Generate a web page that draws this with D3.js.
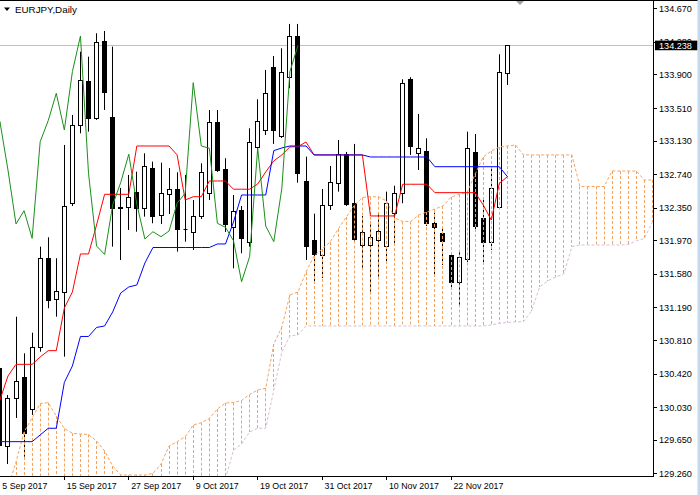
<!DOCTYPE html>
<html><head><meta charset="utf-8">
<script src="https://cdn.jsdelivr.net/npm/d3@7"></script>
<style>html,body{margin:0;padding:0;background:#fff;overflow:hidden}</style>
</head><body><svg id="c" width="700" height="495"></svg>
<script>
// ---------- data ----------
const symbolTitle = "EURJPY,Daily";
const dateLabels = ["5 Sep 2017","15 Sep 2017","27 Sep 2017","9 Oct 2017","19 Oct 2017","31 Oct 2017","10 Nov 2017","22 Nov 2017"];
const dateLabelBar = [0,8,16,24,32,40,48,56];
const priceTicks = ["129.260","129.650","130.030","130.420","130.810","131.190","131.580","131.970","132.350","132.740","133.130","133.510","133.900","134.280","134.670"];
const lastPrice = 134.238;

const open = [130.485,129.572,130.140,130.386,130.008,130.733,131.769,131.288,131.373,132.402,
133.313,133.825,133.391,134.290,133.400,132.353,132.362,132.530,132.347,132.816,
132.260,132.510,132.565,132.108,132.062,132.257,132.518,133.351,132.801,132.126,
132.324,131.955,133.060,133.254,133.984,133.185,133.875,134.348,132.661,131.975,
131.800,132.382,132.634,132.972,132.402,131.916,131.916,131.975,131.899,132.285,
132.518,133.844,132.983,133.010,132.169,132.060,131.800,131.489,131.750,132.995,
132.227,131.955,132.362,133.921];
const high = [130.637,130.171,131.082,130.656,130.896,131.897,132.006,131.762,133.080,133.429,
134.165,134.107,134.380,134.406,134.224,132.580,132.731,132.769,132.983,132.886,
132.874,132.812,132.762,132.731,132.440,132.867,133.487,133.487,132.925,132.498,
132.370,133.274,133.612,133.953,134.115,134.205,134.488,134.488,132.944,132.281,
132.568,132.836,133.138,132.999,133.092,132.254,132.188,132.285,132.537,132.606,
133.844,133.868,133.441,133.158,132.292,132.114,131.835,131.858,133.235,133.208,
132.440,132.809,134.135,134.243];
const low = [129.380,129.368,129.904,129.453,129.939,130.675,131.180,131.082,130.617,132.370,
133.216,133.235,133.371,133.487,131.897,131.742,132.091,132.071,132.246,132.169,
132.161,132.277,131.839,131.955,131.858,132.219,132.440,132.766,132.068,131.645,
131.820,131.897,132.983,133.196,133.092,133.161,133.740,132.641,131.742,131.471,
131.532,132.324,132.537,132.370,131.963,131.649,131.373,131.548,131.719,131.940,
132.402,132.964,132.789,132.137,131.567,131.684,131.393,131.198,131.719,132.068,
131.707,131.858,132.347,133.778];
const close = [129.589,130.140,130.334,129.726,130.733,131.769,131.277,131.385,132.370,133.313,
133.836,133.391,134.275,133.700,132.343,132.341,132.478,132.347,132.836,132.254,
132.518,132.565,132.099,132.097,132.257,132.762,133.351,132.789,132.161,132.315,
131.994,133.118,133.363,133.681,133.254,133.933,134.348,132.751,131.905,131.806,
132.382,132.644,132.972,132.388,131.986,132.071,132.013,132.079,132.402,132.518,
133.805,133.068,133.042,132.169,132.122,131.966,131.489,131.780,133.042,132.137,
131.955,132.576,133.933,134.238];

const tenkan = [130.113,130.392,130.528,130.528,130.528,130.613,130.687,130.687,131.183,131.370,
131.812,131.812,132.149,132.506,132.506,132.506,132.506,133.068,133.068,133.068,
133.068,133.068,132.964,132.440,132.478,132.478,132.661,132.661,132.661,132.565,
132.565,132.565,132.626,132.766,132.894,132.964,133.057,133.060,133.115,132.964,
132.964,132.964,132.964,132.964,132.964,132.964,132.254,132.254,132.254,132.254,
132.623,132.623,132.623,132.623,132.525,132.525,132.525,132.525,132.525,132.525,
132.382,132.207,132.634,132.711];
const kijun = [129.628,129.628,129.628,129.628,129.628,129.706,129.784,129.784,130.317,130.509,
130.852,130.852,130.957,130.974,131.137,131.358,131.428,131.451,131.707,131.887,
131.887,131.887,131.887,131.887,131.887,131.887,131.887,131.928,131.928,132.184,
132.498,132.498,132.498,132.498,133.014,133.045,133.068,133.068,133.068,132.964,
132.964,132.964,132.964,132.964,132.964,132.964,132.940,132.940,132.940,132.940,
132.940,132.940,132.940,132.940,132.827,132.827,132.827,132.827,132.827,132.827,
132.827,132.827,132.827,132.711];
const chikouShift = 26;

const senkouA = [128.950,129.089,129.392,129.741,129.904,130.072,130.082,129.927,129.781,129.726,
129.717,129.712,129.636,129.520,129.345,129.240,129.240,129.240,129.240,129.258,
129.368,129.578,129.628,129.686,129.822,129.849,129.898,130.008,130.078,130.084,
130.107,130.177,130.229,130.249,130.765,130.962,131.335,131.370,131.602,131.788,
131.870,131.951,132.103,132.242,132.376,132.469,132.478,132.478,132.428,132.231,
132.190,132.190,132.266,132.300,132.335,132.370,132.475,132.504,132.527,132.742,
132.940,133.010,133.057,133.068,133.080,132.964,132.964,132.964,132.964,132.964,
132.964,132.964,132.597,132.597,132.597,132.597,132.777,132.777,132.777,132.777,
132.673,132.673];
const senkouB = [null,null,null,null,null,null,null,null,null,null,
null,null,null,null,null,null,null,null,null,null,
null,null,null,null,null,null,null,null,129.194,129.531,
129.601,129.741,129.784,129.784,130.229,130.672,130.858,130.869,130.974,130.974,
130.974,130.974,130.974,130.974,130.974,130.974,130.974,130.974,130.974,130.974,
130.974,130.974,130.974,130.974,130.974,130.974,130.974,130.974,130.974,130.974,
130.974,130.986,131.005,131.015,131.021,131.026,131.149,131.428,131.498,131.544,
131.579,131.897,131.916,131.916,131.916,131.916,131.916,131.916,131.922,131.963,
131.992,132.184];

// ---------- layout ----------
const PR = 653, PB = 476;
const svg = d3.select("#c");
const x = d3.scaleLinear().domain([0, 63]).range([-0.1, 507.4]);
const y = d3.scaleLinear().domain([129.26, 134.67]).range([473.3, 8.3]);
const col = v => Math.floor(v) + 0.5;
const row = v => Math.round(v) + 0.5;
const FONT = "Liberation Sans, Arial, sans-serif";

svg.append("rect").attr("width",700).attr("height",495).attr("fill","#fff");
svg.append("defs").append("clipPath").attr("id","pc")
  .append("rect").attr("x",0).attr("y",1).attr("width",PR).attr("height",PB-1);
const g = svg.append("g").attr("clip-path","url(#pc)");

// current price line
g.append("line").attr("x1",0).attr("x2",PR)
  .attr("y1",row(y(lastPrice))).attr("y2",row(y(lastPrice)))
  .attr("stroke","#c0c0c0").attr("stroke-width",1);

// candles
const bars = d3.range(open.length);
const cg = g.append("g");
bars.forEach(i => {
  const cx = col(x(i));
  cg.append("line").attr("x1",cx).attr("x2",cx)
    .attr("y1",y(high[i])).attr("y2",y(low[i]))
    .attr("stroke","#000").attr("stroke-width",1);
  const top = row(y(Math.max(open[i],close[i])));
  const bot = row(y(Math.min(open[i],close[i])));
  const bull = close[i] >= open[i];
  if (bot - top < 1) {
    cg.append("line").attr("x1",cx-2).attr("x2",cx+2).attr("y1",top).attr("y2",top)
      .attr("stroke","#000");
  } else {
    cg.append("rect").attr("x",cx-2).attr("y",top).attr("width",4).attr("height",bot-top)
      .attr("fill", bull ? "#fff" : "#000").attr("stroke","#000").attr("stroke-width",1);
  }
});

// cloud hatch
const cloudIdx = d3.range(senkouA.length);
const hg = g.append("g");
cloudIdx.forEach(i => {
  const a = senkouA[i], b = senkouB[i];
  const cx = col(x(i));
  const y1 = y(a);
  const y2 = b == null ? PB + 5 : y(b);
  const colr = (b == null || a >= b) ? "#F4A460" : "#D8BFD8";
  hg.append("line").attr("x1",cx).attr("x2",cx).attr("y1",y1).attr("y2",y2)
    .attr("stroke",colr).attr("stroke-width",1).attr("stroke-dasharray","3,2");
});
g.append("path").datum(cloudIdx)
  .attr("d", d3.line().x(i=>x(i)).y(i=>y(senkouA[i])))
  .attr("fill","none").attr("stroke","#F4A460").attr("stroke-width",1).attr("stroke-dasharray","3,2");
g.append("path").datum(cloudIdx)
  .attr("d", d3.line().defined(i=>senkouB[i]!=null).x(i=>x(i)).y(i=>y(senkouB[i])))
  .attr("fill","none").attr("stroke","#D8BFD8").attr("stroke-width",1).attr("stroke-dasharray","3,2");

// tenkan / kijun / chikou
g.append("path").datum(bars)
  .attr("d", d3.line().x(i=>x(i)).y(i=>y(tenkan[i])))
  .attr("fill","none").attr("stroke","#ff0000").attr("stroke-width",1);
g.append("path").datum(bars)
  .attr("d", d3.line().x(i=>x(i)).y(i=>y(kijun[i])))
  .attr("fill","none").attr("stroke","#0000ff").attr("stroke-width",1);
g.append("path").datum(bars)
  .attr("d", d3.line().x(k=>x(k-chikouShift)).y(k=>y(close[k])))
  .attr("fill","none").attr("stroke","#1a8f1a").attr("stroke-width",1);

// frame
svg.append("line").attr("x1",0).attr("x2",700).attr("y1",0.5).attr("y2",0.5).attr("stroke","#000");
svg.append("line").attr("x1",PR+0.5).attr("x2",PR+0.5).attr("y1",0).attr("y2",PB+1).attr("stroke","#000");
svg.append("line").attr("x1",0).attr("x2",PR+1).attr("y1",PB+0.5).attr("y2",PB+0.5).attr("stroke","#000");

// price axis
priceTicks.forEach(t => {
  const yy = y(+t);
  svg.append("line").attr("x1",PR+1).attr("x2",PR+4).attr("y1",row(yy)).attr("y2",row(yy)).attr("stroke","#000");
  svg.append("text").attr("transform",`translate(659,${yy+3.6}) scale(0.93,1)`)
    .attr("font-family",FONT).attr("font-size",9.8).attr("fill","#000").text(t);
});
// current price label
const ly = y(lastPrice);
svg.append("rect").attr("x",655).attr("y",ly-4.8).attr("width",42.5).attr("height",9.6).attr("fill","#000");
svg.append("text").attr("transform",`translate(659,${ly+3.6}) scale(0.93,1)`)
  .attr("font-family",FONT).attr("font-size",9.8).attr("fill","#fff").text(lastPrice.toFixed(3));

// date axis
dateLabels.forEach((t,k) => {
  const xx = x(dateLabelBar[k]);
  svg.append("line").attr("x1",col(xx)).attr("x2",col(xx)).attr("y1",PB+1).attr("y2",PB+4).attr("stroke","#000");
  svg.append("text").attr("transform",`translate(${xx+2.4},488.8) scale(0.9,1)`)
    .attr("font-family",FONT).attr("font-size",9.8).attr("fill","#000").text(t);
});

// title
svg.append("path").attr("d","M4,7.5L10,7.5L7,11Z").attr("fill","#000");
svg.append("text").attr("x",15).attr("y",12.7)
  .attr("font-family",FONT).attr("font-size",9.8).attr("fill","#000").text(symbolTitle);

// chart-shift marker and window edge
svg.append("path").attr("d","M516,1L524,1L520,5Z").attr("fill","#a0a0a0");
svg.append("rect").attr("x",697.5).attr("y",0).attr("width",2.5).attr("height",495).attr("fill","#c4d8ee");
</script>
</body></html>
